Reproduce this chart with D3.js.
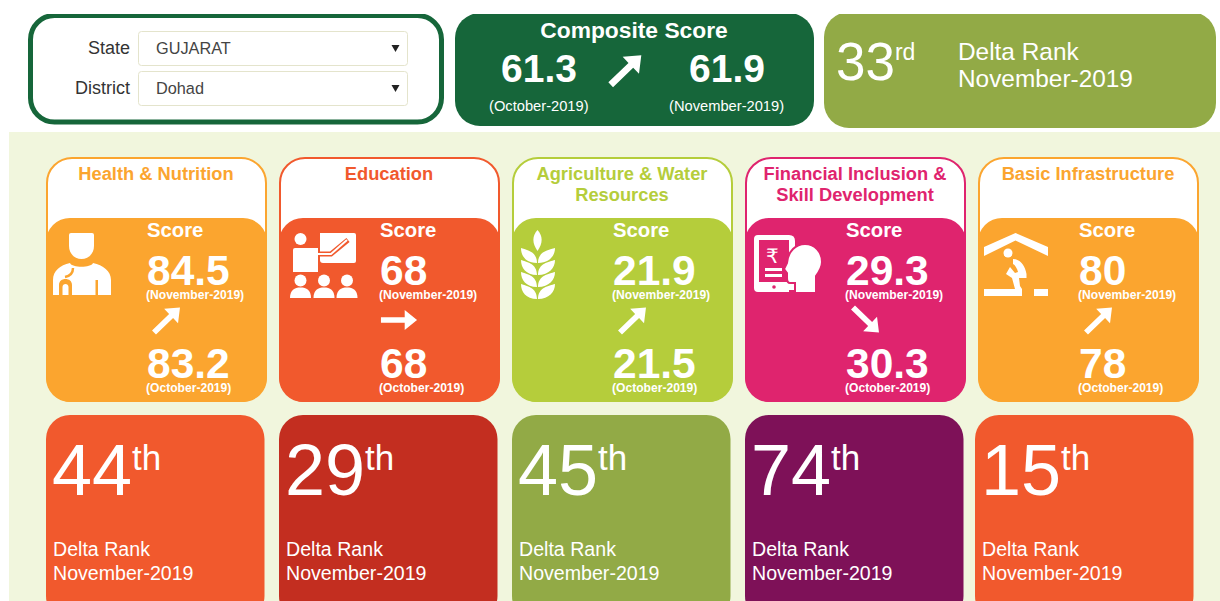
<!DOCTYPE html>
<html>
<head>
<meta charset="utf-8">
<title>Delta Rank</title>
<script src="https://cdnjs.cloudflare.com/ajax/libs/d3/7.8.5/d3.min.js"></script>
<style>
  html, body { margin: 0; padding: 0; background: #fff; }
  svg { display: block; }
  text { font-family: "Liberation Sans", Arial, sans-serif; }
</style>
</head>
<body>
<div id="chart"></div>
<script>
// data
const categories = ["Health & Nutrition", "Education", "Agriculture & Water Resources", "Financial Inclusion & Skill Development", "Basic Infrastructure"];
const titleLines = [["Health & Nutrition"], ["Education"], ["Agriculture & Water", "Resources"], ["Financial Inclusion &", "Skill Development"], ["Basic Infrastructure"]];
const scoreNov = [84.5, 68, 21.9, 29.3, 80];
const scoreOct = [83.2, 68, 21.5, 30.3, 78];
const ranks = [44, 29, 45, 74, 15];
const cardColors = ["#fba52f", "#f1592d", "#b5cd3b", "#df246e", "#fba52f"];
const rankColors = ["#f1592d", "#c32e20", "#92aa46", "#7e1158", "#f1592d"];
const iconNames = ["doctor", "teacher", "wheat", "finance", "toilet"];
const monthNow = "November-2019";
const monthPrev = "October-2019";
const compositePrev = 61.3;
const compositeNow = 61.9;
const compositeRank = 33;
const stateName = "GUJARAT";
const districtName = "Dohad";

const width = 1220, height = 601;

const x = d3.scaleBand()
  .domain(categories)
  .range([46, 1199])
  .paddingInner(12 / 233)
  .paddingOuter(0);

const svg = d3.select("#chart").append("svg")
  .attr("width", width)
  .attr("height", height);

svg.append("clipPath").attr("id", "page")
  .append("rect").attr("x", 0).attr("y", 14).attr("width", width).attr("height", height - 14);

const root = svg.append("g").attr("clip-path", "url(#page)");

function suffix(n) {
  const t = n % 100, u = n % 10;
  if (t > 10 && t < 14) return "th";
  return u == 1 ? "st" : u == 2 ? "nd" : u == 3 ? "rd" : "th";
}

// block arrow, drawn pointing right from 0,0
function arrow(g, cx, cy, angle, k) {
  g.append("path")
    .attr("transform", `translate(${cx},${cy}) rotate(${angle}) scale(${k})`)
    .attr("d", "M-19,-3 L6,-3 L6,-10.5 L19,0 L6,10.5 L6,3 L-19,3 Z")
    .attr("fill", "#fff");
}

function direction(now, prev) {
  return now > prev ? -44 : now < prev ? 44 : 0;
}

// icons, in pixels from the left of the card and the top of its coloured part
const icons = {
  doctor(g, c) {
    g.append("path").attr("fill", "#fff")
      .attr("d", "M25,15 H46 Q48,15 48,17 V28 C48,36 42,41 35.5,41 C29,41 23,36 23,28 V17 Q23,15 25,15 Z");
    g.append("path").attr("fill", "#fff")
      .attr("d", "M7,77 V62 C7,53 14,47 24,45 C26,50 45,50 47,45 C57,47 65,53 65,62 V77 Z");
    // stethoscope, cut out of the body
    g.append("path").attr("fill", "none").attr("stroke", c).attr("stroke-width", 2.5)
      .attr("d", "M27,50 C27,55 24,58 19,59");
    g.append("path").attr("fill", c)
      .attr("d", "M13,77 V67 C13,63 16,61 19.5,61 C23,61 26,63 26,67 V77 H22.5 V69 C22.5,65 16.5,65 16.5,69 V77 Z");
    g.append("rect").attr("fill", c).attr("x", 49.5).attr("y", 62).attr("width", 2.5).attr("height", 15);
  },
  teacher(g, c) {
    g.append("circle").attr("fill", "#fff").attr("cx", 21.5).attr("cy", 21).attr("r", 6);
    // board
    g.append("path").attr("fill", "#fff")
      .attr("d", "M41,15 H75 Q77,15 77,17 V43 Q77,45 75,45 H44 Q41,45 41,42 Z");
    g.append("path").attr("fill", "none").attr("stroke", c).attr("stroke-width", 5)
      .attr("d", "M38,36 L52,36 L69,22");
    g.append("path").attr("fill", "none").attr("stroke", "#fff").attr("stroke-width", 2)
      .attr("d", "M38,36 L52,36 L68,22");
    // body and arm
    g.append("path").attr("fill", "#fff")
      .attr("d", "M16,30 H39 V38 H39 V54 H14 V32 Q14,30 16,30 Z");
    [21.5, 45, 68].forEach(cx => {
      g.append("circle").attr("fill", "#fff").attr("cx", cx).attr("cy", 62.5).attr("r", 6);
      g.append("path").attr("fill", "#fff")
        .attr("d", `M${cx - 10.5},80 C${cx - 10.5},72 ${cx - 6},69.5 ${cx},69.5 C${cx + 6},69.5 ${cx + 10.5},72 ${cx + 10.5},80 Z`);
    });
  },
  wheat(g) {
    g.append("path").attr("fill", "#fff")
      .attr("d", "M25.5,12 C31,18 31,25 25.5,33 C20,25 20,18 25.5,12 Z");
    [30, 42, 54, 66].forEach(y => {
      g.append("path").attr("fill", "#fff")
        .attr("d", `M25,${y + 15} C14,${y + 15} 9,${y + 8} 9,${y} C14,${y + 2} 25,${y + 3} 25,${y + 15} Z`);
      g.append("path").attr("fill", "#fff")
        .attr("d", `M26,${y + 15} C37,${y + 15} 43,${y + 8} 43,${y} C37,${y + 2} 26,${y + 3} 26,${y + 15} Z`);
    });
  },
  finance(g, c) {
    g.append("path").attr("fill", "#fff").attr("fill-rule", "evenodd")
      .attr("d", "M13,17 H44 Q50,17 50,23 V74 H13 Q9,74 9,70 V21 Q9,17 13,17 Z M14,22 V64 H44 V22 Z");
    g.append("text").attr("x", 21).attr("y", 45).attr("fill", "#fff")
      .attr("font-size", 20).style("font-family", "DejaVu Sans")
      .text("\u20b9");
    g.append("rect").attr("fill", "#fff").attr("x", 20).attr("y", 50).attr("width", 17).attr("height", 3);
    g.append("rect").attr("fill", "#fff").attr("x", 20).attr("y", 56).attr("width", 17).attr("height", 3);
    g.append("circle").attr("fill", c).attr("cx", 29).attr("cy", 69).attr("r", 1.8);
    g.append("path").attr("fill", "#fff").attr("stroke", c).attr("stroke-width", 2)
      .attr("d", "M39,51 L42,45 C43,33 51,26 60,26 C70,26 77,34 77,44 C77,50 74,54 71,58 V75 H50 V65 H45 C42,65 42,62 42,60 L42,55 Z");
    g.append("rect").attr("fill", c).attr("x", 44).attr("y", 72).attr("width", 5).attr("height", 4);
  },
  toilet(g) {
    g.append("path").attr("fill", "#fff")
      .attr("d", "M6,29 L37.5,15 L70,29 V38 L37.5,22.5 L6,38 Z");
    g.append("circle").attr("fill", "#fff").attr("cx", 30).attr("cy", 35).attr("r", 4.5);
    g.append("path").attr("fill", "#fff")
      .attr("d", "M35,41 C42,41 47,47 48.500,56 L48.500,60 H41 L42,68 L44,71 H37 L34,60 L28,56 L32,49 L37,55 L40,54 C39,50 37,47 35,46 Z");
    g.append("rect").attr("fill", "#fff").attr("x", 6).attr("y", 71).attr("width", 38).attr("height", 7);
    g.append("rect").attr("fill", "#fff").attr("x", 56).attr("y", 71).attr("width", 14).attr("height", 7);
  }
};

// selector box
const picker = root.append("g");
picker.append("rect")
  .attr("x", 30.5).attr("y", 15.5).attr("width", 411).attr("height", 106.5).attr("rx", 24)
  .attr("fill", "#fff").attr("stroke", "#16663a").attr("stroke-width", 5);

const pickers = [["State", stateName], ["District", districtName]];
const pickerY = d3.scalePoint().domain(["State", "District"]).range([31, 71]);

const row = picker.selectAll("g.row").data(pickers).enter().append("g")
  .attr("class", "row")
  .attr("transform", d => `translate(0,${pickerY(d[0])})`);
row.append("text").attr("x", 130).attr("y", 23).attr("text-anchor", "end")
  .attr("font-size", 18).attr("fill", "#333").text(d => d[0]);
row.append("rect").attr("x", 138.5).attr("y", 0.5).attr("width", 269).attr("height", 34).attr("rx", 3)
  .attr("fill", "#fff").attr("stroke", "#e4e4cc");
row.append("text").attr("x", 156).attr("y", 23).attr("font-size", 16.3).attr("fill", "#444").text(d => d[1]);
row.append("path").attr("d", "M391.5,14 H399.5 L395.5,21 Z").attr("fill", "#222");

// composite score
const comp = root.append("g");
comp.append("rect").attr("x", 455).attr("y", 13).attr("width", 359).attr("height", 113).attr("rx", 25).attr("fill", "#16663a");
comp.append("text").attr("x", 634).attr("y", 38).attr("text-anchor", "middle").attr("font-weight", "bold")
  .attr("font-size", 22.8).attr("fill", "#fff").text("Composite Score");
comp.append("text").attr("x", 501).attr("y", 82).attr("font-weight", "bold").attr("font-size", 39)
  .attr("fill", "#fff").text(compositePrev);
comp.append("text").attr("x", 689).attr("y", 82).attr("font-weight", "bold").attr("font-size", 39)
  .attr("fill", "#fff").text(compositeNow);
comp.append("text").attr("x", 489).attr("y", 111).attr("font-size", 14.7).attr("fill", "#fff").text(`(${monthPrev})`);
comp.append("text").attr("x", 669).attr("y", 111).attr("font-size", 14.7).attr("fill", "#fff").text(`(${monthNow})`);
arrow(comp, 626, 70, direction(compositeNow, compositePrev), 1.12);

// overall rank
const overall = root.append("g");
overall.append("rect").attr("x", 824).attr("y", 12).attr("width", 392).attr("height", 116).attr("rx", 25).attr("fill", "#92aa46");
const overallNum = overall.append("text").attr("x", 836).attr("y", 80).attr("font-size", 53).attr("fill", "#fff").text(compositeRank);
overallNum.append("tspan").attr("font-size", 23).attr("dy", -20).text(suffix(compositeRank));
overall.append("text").attr("x", 958).attr("y", 60).attr("font-size", 24.4).attr("fill", "#fff").text("Delta Rank");
overall.append("text").attr("x", 958).attr("y", 87).attr("font-size", 24.4).attr("fill", "#fff").text(monthNow);

// pale panel
root.append("rect").attr("x", 9).attr("y", 132).attr("width", width - 9).attr("height", height - 132).attr("fill", "#f1f6dd");

const rows = categories.map((name, i) => ({
  name,
  lines: titleLines[i],
  now: scoreNov[i],
  prev: scoreOct[i],
  rank: ranks[i],
  color: cardColors[i],
  rankColor: rankColors[i],
  icon: iconNames[i],
  shift: i == 4 ? -3 : 0
}));

// score cards
const card = root.selectAll("g.card").data(rows).enter().append("g")
  .attr("class", "card")
  .attr("transform", d => `translate(${x(d.name)},157)`);

card.append("rect")
  .attr("x", 1).attr("y", 1).attr("width", x.bandwidth() - 2).attr("height", 243).attr("rx", 25)
  .attr("fill", "#fff").attr("stroke", d => d.color).attr("stroke-width", 2);
card.append("rect")
  .attr("x", 0).attr("y", 61).attr("width", x.bandwidth()).attr("height", 184).attr("rx", 24)
  .attr("fill", d => d.color);

card.each(function (d) {
  const g = d3.select(this);
  d.lines.forEach((line, i) => {
    g.append("text").attr("x", x.bandwidth() / 2 - 0.5).attr("y", 23 + i * 21)
      .attr("text-anchor", "middle").attr("font-weight", "bold").attr("font-size", 18.3)
      .attr("fill", d.color).text(line);
  });
  icons[d.icon](g.append("g").attr("transform", "translate(0,61)"), d.color);
  arrow(g, d.now == d.prev ? 120 : 121, 163, direction(d.now, d.prev), 0.95);
});

card.append("text").attr("x", 101).attr("y", 80).attr("font-weight", "bold").attr("font-size", 20.3)
  .attr("fill", "#fff").text("Score");
card.append("text").attr("x", 101).attr("y", 128).attr("font-weight", "bold").attr("font-size", 42.5)
  .attr("fill", "#fff").text(d => d.now);
card.append("text").attr("x", 100).attr("y", 142).attr("font-weight", "bold").attr("font-size", 12.1)
  .attr("fill", "#fff").text(`(${monthNow})`);
card.append("text").attr("x", 101).attr("y", 221).attr("font-weight", "bold").attr("font-size", 42.5)
  .attr("fill", "#fff").text(d => d.prev);
card.append("text").attr("x", 100).attr("y", 235).attr("font-weight", "bold").attr("font-size", 12.1)
  .attr("fill", "#fff").text(`(${monthPrev})`);

// rank cards, cut off by the bottom of the page
const rank = root.selectAll("g.rank").data(rows).enter().append("g")
  .attr("class", "rank")
  .attr("transform", d => `translate(${x(d.name) + d.shift},415)`);

rank.append("rect").attr("width", 218.5).attr("height", 205).attr("rx", 24).attr("fill", d => d.rankColor);
const rankNum = rank.append("text").attr("x", 6).attr("y", 80).attr("font-size", 72).attr("fill", "#fff").text(d => d.rank);
rankNum.append("tspan").attr("font-size", 35).attr("dy", -25).text(d => suffix(d.rank));
rank.append("text").attr("x", 7).attr("y", 141).attr("font-size", 19.6).attr("fill", "#fff").text("Delta Rank");
rank.append("text").attr("x", 7).attr("y", 165).attr("font-size", 19.6).attr("fill", "#fff").text(monthNow);
</script>
</body>
</html>
